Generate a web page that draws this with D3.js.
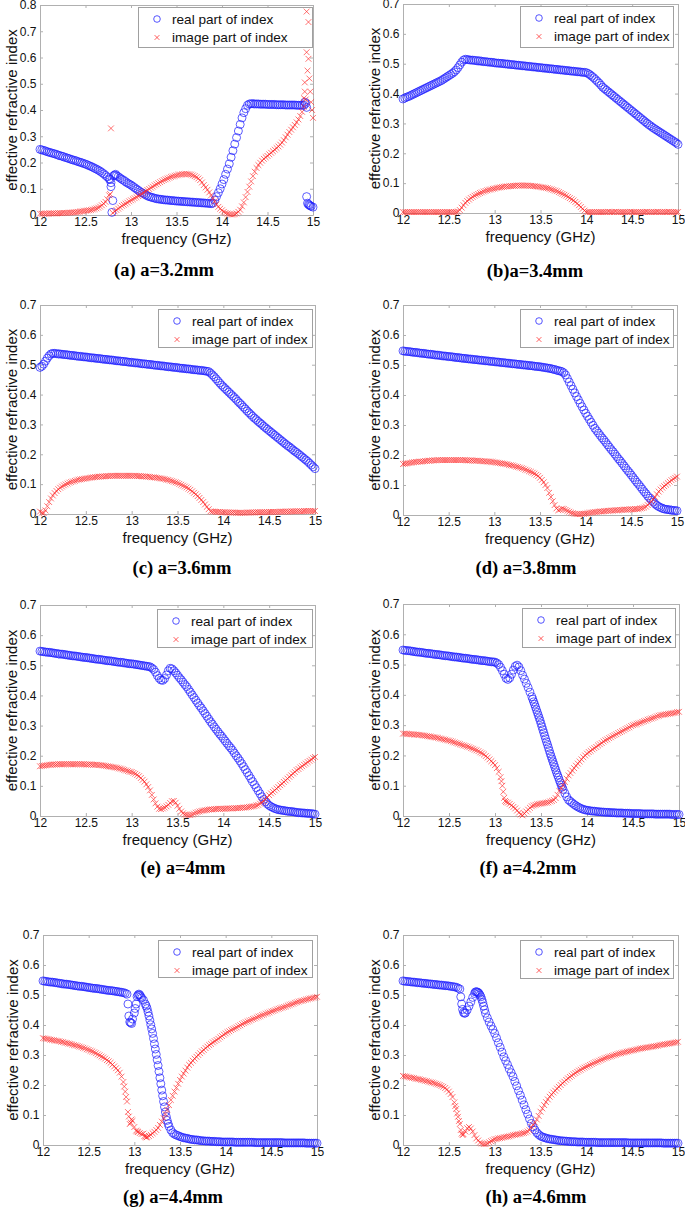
<!DOCTYPE html>
<html><head><meta charset="utf-8">
<script src="https://cdn.jsdelivr.net/npm/d3@7"></script>
<style>body{margin:0;background:#fff}svg{display:block}</style>
</head><body>
<svg id="chart" width="685" height="1208"></svg>
<script>
// ---------- texts & ticks ----------
const xTickValues = [12, 12.5, 13, 13.5, 14, 14.5, 15];
const xTickLabels = ['12', '12.5', '13', '13.5', '14', '14.5', '15'];
const yTickValues8 = [0, 0.1, 0.2, 0.3, 0.4, 0.5, 0.6, 0.7, 0.8];
const yTickLabels8 = ['0', '0.1', '0.2', '0.3', '0.4', '0.5', '0.6', '0.7', '0.8'];
const yTickValues7 = [0, 0.1, 0.2, 0.3, 0.4, 0.5, 0.6, 0.7];
const yTickLabels7 = ['0', '0.1', '0.2', '0.3', '0.4', '0.5', '0.6', '0.7'];
const titles = ['(a) a=3.2mm', '(b)a=3.4mm', '(c) a=3.6mm', '(d) a=3.8mm', '(e) a=4mm', '(f) a=4.2mm', '(g) a=4.4mm', '(h) a=4.6mm'];
const yMaxes = [0.8, 0.7, 0.7, 0.7, 0.7, 0.7, 0.7, 0.7];
const seriesNames = ['real part of index', 'image part of index'];
const xAxisLabel = 'frequency (GHz)';
const yAxisLabel = 'effective refractive index';

// frequency sampling (GHz), 12.00 .. 15.00 every 0.02
const freq = d3.range(151).map(i => +(12 + i * 0.02).toFixed(2));

// ---------- (a) a=3.2mm ----------
const realA = [
.250,.248,.246,.244,.241,.239,.237,.235,.233,.231,
.228,.226,.224,.222,.219,.217,.215,.212,.210,.208,
.206,.203,.201,.199,.196,.194,.191,.188,.185,.182,
.178,.175,.171,.167,.162,.157,.151,.145,.138,.123,
.055,.152,.150,.146,.141,.136,.132,.127,.122,.118,
.114,.109,.104,.099,.094,.089,.085,.081,.077,.073,
.070,.068,.066,.064,.062,.061,.060,.059,.058,.057,
.057,.056,.055,.055,.054,.053,.053,.052,.052,.051,
.051,.050,.050,.049,.049,.048,.048,.047,.047,.046,
.046,.045,.045,.044,.043,.045,.057,.070,.085,.100,
.118,.135,.155,.175,.195,.220,.245,.270,.295,.320,
.345,.370,.390,.405,.418,.423,.424,.424,.423,.423,
.423,.422,.422,.422,.422,.421,.421,.421,.421,.421,
.420,.420,.420,.420,.420,.419,.419,.419,.419,.419,
.419,.418,.418,.418,.418,.418,.425,.045,.038,.033,
.030];
const imagA = [
.005,.005,.005,.005,.005,.006,.006,.006,.006,.006,
.007,.007,.007,.008,.008,.008,.009,.009,.010,.010,
.011,.012,.013,.014,.015,.016,.017,.018,.019,.021,
.023,.025,.028,.032,.037,.043,.050,.060,.075,.330,
.008,.014,.019,.024,.029,.035,.039,.043,.047,.052,
.056,.060,.064,.068,.072,.076,.081,.086,.090,.095,
.099,.104,.108,.113,.117,.121,.125,.129,.133,.136,
.139,.142,.145,.147,.149,.151,.153,.154,.155,.156,
.156,.156,.155,.154,.151,.148,.144,.139,.133,.124,
.114,.105,.096,.086,.075,.063,.052,.041,.031,.024,
.018,.012,.008,.005,.003,.002,.002,.003,.006,.012,
.020,.033,.048,.068,.088,.108,.128,.148,.165,.179,
.190,.199,.207,.214,.220,.225,.231,.237,.243,.249,
.255,.261,.268,.276,.285,.296,.306,.316,.325,.334,
.343,.353,.364,.377,.393,.413,.440,.550,.520,.430,
.370];
const extraRealA = [[12.77,.135],[12.78,.108],[12.79,.010],[12.81,.150],[12.83,.155],[14.91,.430],[14.93,.410],[14.93,.070],[14.95,.040],[14.97,.035]];
const extraImagA = [[12.77,.080],[14.90,.445],[14.91,.470],[14.91,.505],[14.93,.620],[14.93,.775],[14.95,.735],[14.95,.595],[14.97,.470],[14.99,.400]];

// ---------- (b) a=3.4mm ----------
const realB = [
.382,.385,.388,.390,.393,.396,.399,.402,.405,.408,
.411,.414,.417,.420,.423,.426,.429,.432,.435,.438,
.441,.444,.448,.452,.456,.460,.464,.468,.473,.479,
.487,.496,.505,.512,.515,.514,.513,.512,.512,.511,
.510,.509,.509,.508,.507,.507,.506,.505,.505,.504,
.503,.502,.502,.501,.501,.500,.499,.499,.498,.497,
.497,.496,.495,.495,.494,.493,.493,.492,.491,.491,
.490,.489,.489,.488,.487,.487,.486,.485,.485,.484,
.483,.483,.482,.481,.481,.480,.479,.479,.478,.477,
.477,.476,.475,.475,.474,.473,.473,.472,.471,.471,
.470,.467,.463,.458,.453,.447,.441,.435,.428,.421,
.416,.411,.406,.401,.396,.391,.386,.381,.376,.371,
.366,.361,.356,.351,.346,.341,.336,.331,.326,.321,
.316,.311,.306,.301,.296,.292,.287,.283,.279,.275,
.271,.267,.263,.259,.255,.251,.247,.243,.239,.235,
.230];
const imagB = [
.003,.003,.003,.003,.003,.003,.003,.003,.003,.003,
.003,.003,.003,.003,.003,.003,.003,.003,.003,.003,
.003,.003,.003,.003,.003,.003,.003,.003,.003,.003,
.005,.010,.018,.026,.034,.040,.045,.050,.054,.058,
.061,.064,.067,.069,.072,.074,.076,.078,.079,.081,
.082,.084,.085,.086,.087,.088,.089,.089,.090,.090,
.091,.091,.092,.092,.092,.092,.092,.092,.092,.091,
.091,.090,.090,.089,.088,.087,.086,.085,.084,.083,
.081,.079,.077,.075,.073,.070,.067,.064,.061,.058,
.054,.050,.046,.042,.037,.032,.026,.020,.014,.008,
.003,.003,.003,.003,.003,.003,.003,.003,.003,.003,
.003,.003,.004,.003,.003,.003,.004,.003,.003,.003,
.003,.003,.003,.003,.004,.003,.003,.003,.003,.003,
.003,.003,.003,.004,.003,.003,.003,.003,.003,.004,
.003,.003,.003,.003,.003,.004,.003,.003,.003,.003,
.003];

// ---------- (c) a=3.6mm ----------
const realC = [
.491,.495,.502,.512,.522,.530,.536,.538,.538,.537,
.536,.536,.535,.534,.534,.533,.532,.531,.531,.530,
.529,.528,.528,.527,.526,.526,.525,.524,.523,.523,
.522,.521,.521,.520,.519,.518,.518,.517,.516,.516,
.515,.514,.513,.513,.512,.511,.511,.510,.509,.508,
.508,.507,.506,.506,.505,.504,.503,.503,.502,.501,
.501,.500,.499,.498,.498,.497,.496,.496,.495,.494,
.493,.493,.492,.491,.491,.490,.489,.488,.488,.487,
.486,.486,.485,.484,.483,.483,.482,.481,.481,.480,
.479,.478,.477,.472,.466,.460,.453,.446,.439,.432,
.426,.420,.414,.408,.402,.396,.390,.384,.377,.371,
.365,.358,.352,.345,.339,.333,.327,.321,.316,.310,
.305,.300,.294,.289,.284,.279,.274,.269,.264,.259,
.254,.249,.244,.239,.234,.229,.225,.220,.215,.210,
.206,.201,.196,.191,.186,.181,.176,.170,.164,.158,
.152];
const imagC = [
.008,.004,.003,.012,.026,.040,.052,.062,.070,.077,
.083,.088,.092,.096,.099,.102,.105,.107,.109,.111,
.113,.115,.116,.117,.118,.119,.120,.121,.122,.123,
.124,.124,.125,.125,.126,.126,.127,.127,.127,.128,
.128,.128,.128,.128,.128,.128,.128,.128,.128,.128,
.128,.128,.128,.127,.127,.127,.126,.126,.125,.125,
.124,.123,.123,.122,.121,.120,.119,.118,.117,.115,
.114,.112,.110,.108,.106,.104,.101,.098,.095,.092,
.089,.085,.081,.076,.071,.066,.060,.054,.047,.040,
.032,.024,.016,.009,.008,.008,.007,.007,.007,.006,
.006,.006,.005,.005,.005,.005,.005,.004,.004,.004,
.004,.004,.004,.005,.005,.005,.005,.005,.006,.006,
.006,.006,.006,.006,.006,.007,.007,.007,.007,.007,
.007,.008,.008,.008,.008,.008,.008,.009,.009,.009,
.009,.009,.009,.009,.010,.010,.010,.010,.010,.010,
.010];

// ---------- (d) a=3.8mm ----------
const realD = [
.547,.546,.545,.545,.544,.543,.542,.542,.541,.540,
.539,.539,.538,.537,.536,.536,.535,.534,.533,.533,
.532,.531,.530,.530,.529,.528,.528,.527,.526,.525,
.525,.524,.523,.522,.522,.521,.520,.520,.519,.518,
.518,.517,.516,.516,.515,.514,.514,.513,.512,.512,
.511,.510,.510,.509,.508,.508,.507,.506,.506,.505,
.504,.504,.503,.502,.502,.501,.500,.500,.499,.498,
.498,.497,.496,.495,.495,.494,.493,.492,.491,.490,
.489,.488,.486,.485,.483,.481,.480,.478,.474,.467,
.455,.443,.431,.419,.407,.395,.384,.372,.361,.350,
.339,.329,.319,.309,.299,.289,.281,.273,.265,.257,
.250,.242,.234,.226,.218,.211,.203,.195,.187,.180,
.172,.164,.156,.148,.141,.133,.125,.117,.109,.102,
.094,.086,.078,.071,.063,.056,.049,.043,.037,.032,
.028,.025,.022,.020,.019,.018,.017,.016,.015,.015,
.014];
const imagD = [
.170,.171,.172,.173,.174,.175,.176,.177,.177,.178,
.178,.179,.180,.180,.181,.181,.182,.182,.182,.183,
.183,.183,.183,.183,.183,.183,.183,.183,.183,.183,
.183,.183,.183,.183,.183,.182,.182,.182,.182,.181,
.181,.181,.180,.180,.179,.179,.178,.178,.177,.177,
.176,.175,.174,.173,.172,.171,.170,.169,.167,.166,
.165,.163,.161,.160,.158,.156,.154,.151,.149,.146,
.144,.141,.138,.134,.130,.124,.117,.109,.100,.090,
.074,.060,.046,.033,.022,.016,.018,.021,.020,.017,
.014,.011,.008,.006,.004,.003,.003,.003,.004,.004,
.005,.006,.007,.008,.009,.010,.010,.011,.012,.012,
.013,.013,.014,.014,.015,.015,.016,.016,.016,.017,
.017,.018,.018,.018,.019,.019,.019,.020,.020,.020,
.022,.023,.025,.028,.033,.039,.045,.052,.060,.069,
.078,.085,.091,.096,.101,.106,.111,.116,.120,.124,
.128];

// ---------- (e) a=4mm ----------
const realE = [
.547,.546,.545,.544,.543,.543,.542,.541,.540,.539,
.538,.537,.537,.536,.535,.534,.533,.532,.531,.531,
.530,.529,.528,.527,.526,.526,.525,.524,.523,.522,
.521,.520,.520,.519,.518,.517,.516,.515,.515,.514,
.513,.512,.511,.510,.510,.509,.508,.507,.506,.505,
.505,.504,.503,.502,.501,.500,.499,.498,.497,.496,
.495,.491,.486,.477,.466,.457,.451,.450,.456,.468,
.482,.490,.488,.482,.475,.467,.459,.452,.444,.436,
.429,.420,.411,.402,.393,.384,.375,.366,.358,.349,
.340,.331,.322,.313,.305,.296,.288,.280,.272,.265,
.257,.249,.241,.233,.226,.218,.209,.200,.192,.183,
.174,.164,.154,.144,.134,.124,.114,.104,.094,.084,
.074,.064,.055,.047,.040,.035,.031,.028,.025,.023,
.021,.020,.019,.018,.017,.016,.015,.015,.014,.013,
.012,.011,.011,.010,.010,.009,.009,.008,.008,.007,
.006];
const imagE = [
.165,.166,.167,.168,.169,.170,.170,.171,.171,.171,
.172,.172,.172,.172,.172,.172,.172,.172,.172,.172,
.172,.172,.172,.172,.172,.171,.171,.171,.171,.170,
.170,.170,.169,.169,.168,.167,.166,.165,.164,.163,
.162,.161,.160,.158,.157,.155,.153,.151,.149,.147,
.146,.143,.140,.136,.132,.126,.120,.114,.105,.096,
.085,.070,.055,.042,.031,.024,.023,.025,.028,.032,
.037,.043,.049,.050,.044,.034,.024,.015,.009,.005,
.004,.003,.003,.005,.008,.011,.013,.015,.017,.018,
.019,.020,.021,.022,.022,.023,.023,.024,.024,.024,
.024,.024,.025,.025,.025,.025,.026,.026,.026,.027,
.027,.028,.028,.029,.030,.031,.032,.033,.035,.037,
.041,.045,.049,.055,.062,.069,.075,.080,.085,.091,
.096,.102,.107,.113,.118,.124,.130,.135,.141,.146,
.152,.156,.161,.165,.170,.174,.179,.183,.187,.192,
.196];

// ---------- (f) a=4.2mm ----------
const realF = [
.548,.547,.546,.546,.545,.544,.543,.542,.541,.541,
.540,.539,.538,.537,.537,.536,.535,.534,.533,.533,
.532,.531,.530,.529,.529,.528,.527,.526,.525,.525,
.524,.523,.522,.521,.521,.520,.519,.518,.517,.517,
.516,.515,.514,.513,.513,.512,.511,.510,.509,.509,
.508,.505,.500,.491,.480,.468,.455,.451,.456,.468,
.482,.494,.498,.492,.480,.465,.452,.438,.424,.409,
.394,.377,.360,.342,.324,.305,.285,.265,.245,.226,
.206,.188,.170,.152,.135,.118,.102,.088,.075,.063,
.053,.048,.043,.038,.034,.030,.027,.024,.022,.020,
.019,.018,.017,.016,.016,.015,.014,.014,.013,.013,
.012,.012,.012,.011,.011,.011,.010,.010,.010,.010,
.009,.009,.009,.009,.008,.008,.008,.008,.008,.008,
.007,.007,.007,.007,.007,.007,.007,.006,.006,.006,
.006,.006,.006,.006,.006,.006,.005,.005,.005,.005,
.005];
const imagF = [
.272,.272,.271,.271,.270,.270,.269,.269,.268,.268,
.267,.266,.265,.264,.263,.262,.261,.260,.259,.258,
.256,.255,.253,.252,.250,.249,.247,.245,.243,.241,
.239,.237,.235,.233,.231,.229,.227,.224,.222,.219,
.217,.214,.210,.207,.203,.198,.193,.187,.181,.175,
.168,.158,.146,.128,.100,.060,.046,.044,.040,.035,
.030,.025,.018,.011,.005,.002,.008,.015,.021,.027,
.032,.035,.037,.039,.040,.041,.042,.043,.044,.045,
.048,.050,.053,.059,.070,.083,.092,.101,.112,.123,
.134,.142,.150,.158,.166,.173,.180,.187,.194,.200,
.206,.211,.215,.220,.224,.228,.233,.237,.241,.246,
.250,.253,.257,.260,.264,.267,.270,.274,.277,.280,
.283,.287,.290,.293,.297,.300,.302,.304,.306,.308,
.311,.313,.315,.318,.320,.322,.324,.326,.329,.331,
.333,.334,.335,.336,.337,.338,.339,.340,.341,.343,
.344];
const extraRealF = [[13.41,.386],[13.43,.369],[13.45,.351],[13.47,.333],[13.49,.315],[13.51,.295],[13.53,.275],[13.55,.255],[13.57,.236],[13.59,.216],[13.61,.197],[13.63,.179],[13.65,.161],[13.67,.143],[13.69,.127],[13.71,.110],[13.73,.095]];
const extraImagF = [[13.07,.115],[13.09,.080],[13.11,.050]];

// ---------- (g) a=4.4mm ----------
const realG = [
.547,.546,.545,.544,.543,.543,.542,.541,.540,.539,
.538,.537,.536,.536,.535,.534,.533,.532,.531,.530,
.529,.529,.528,.527,.526,.525,.524,.523,.522,.522,
.521,.520,.519,.518,.517,.516,.515,.515,.514,.513,
.512,.511,.510,.509,.508,.506,.503,.430,.408,.420,
.440,.470,.500,.500,.490,.483,.470,.455,.430,.401,
.372,.337,.302,.265,.224,.183,.145,.110,.082,.062,
.050,.041,.036,.033,.031,.028,.026,.024,.023,.022,
.020,.019,.018,.017,.017,.016,.015,.014,.014,.013,
.013,.013,.012,.012,.012,.011,.011,.011,.010,.010,
.010,.010,.010,.010,.010,.009,.009,.009,.009,.009,
.009,.009,.009,.009,.009,.009,.008,.008,.008,.008,
.008,.008,.008,.008,.008,.008,.008,.008,.008,.008,
.008,.008,.007,.007,.007,.007,.007,.007,.007,.007,
.007,.007,.007,.007,.006,.006,.006,.006,.006,.006,
.006];
const imagG = [
.356,.355,.354,.353,.351,.350,.349,.348,.347,.346,
.344,.343,.341,.340,.338,.337,.335,.333,.332,.330,
.328,.326,.324,.322,.319,.317,.314,.312,.309,.306,
.302,.299,.295,.292,.288,.283,.279,.274,.268,.262,
.256,.249,.241,.228,.210,.178,.145,.095,.075,.080,
.060,.048,.043,.040,.037,.038,.028,.027,.030,.034,
.039,.044,.050,.057,.067,.078,.090,.103,.117,.133,
.150,.164,.178,.191,.204,.217,.228,.238,.248,.258,
.267,.274,.281,.288,.294,.300,.306,.312,.317,.323,
.328,.333,.337,.342,.346,.350,.354,.359,.363,.368,
.372,.376,.379,.383,.386,.389,.392,.396,.399,.403,
.406,.409,.412,.414,.417,.420,.422,.425,.428,.430,
.433,.435,.438,.440,.442,.445,.447,.449,.452,.454,
.456,.458,.460,.462,.465,.467,.469,.471,.474,.476,
.478,.480,.481,.483,.485,.486,.488,.489,.491,.492,
.494];
const extraRealG = [[12.93,.470],[12.95,.410],[12.97,.405],[13.01,.455],[13.03,.495],[13.05,.503],[13.07,.495],[13.13,.463],[13.15,.443],[13.17,.416],[13.19,.387],[13.21,.355],[13.23,.320],[13.25,.284],[13.27,.245],[13.29,.204],[13.31,.164],[13.33,.127],[13.35,.095],[13.37,.071]];
const extraImagG = [[12.89,.195],[12.91,.160],[12.93,.110],[12.95,.070],[12.97,.085],[13.03,.045],[13.11,.030],[13.13,.025]];

// ---------- (h) a=4.6mm ----------
const realH = [
.547,.546,.545,.545,.544,.543,.543,.542,.541,.541,
.540,.539,.539,.538,.537,.537,.536,.535,.535,.534,
.533,.533,.532,.531,.531,.530,.529,.528,.527,.526,
.523,.520,.470,.442,.440,.450,.463,.477,.492,.505,
.511,.508,.500,.485,.463,.439,.424,.410,.397,.385,
.372,.357,.341,.326,.310,.294,.281,.268,.254,.241,
.228,.212,.197,.181,.166,.150,.134,.118,.103,.087,
.072,.060,.050,.041,.035,.030,.027,.025,.023,.021,
.020,.019,.018,.017,.016,.015,.014,.014,.013,.013,
.012,.012,.011,.011,.011,.010,.010,.010,.010,.009,
.009,.009,.009,.009,.009,.009,.008,.008,.008,.008,
.008,.008,.008,.008,.008,.008,.008,.008,.008,.008,
.008,.008,.008,.007,.007,.007,.007,.007,.007,.007,
.007,.007,.007,.007,.007,.007,.007,.007,.007,.007,
.007,.007,.006,.006,.006,.006,.006,.006,.006,.006,
.006];
const imagH = [
.230,.229,.228,.226,.225,.224,.223,.221,.220,.219,
.217,.216,.214,.213,.211,.209,.208,.206,.204,.202,
.200,.197,.194,.190,.185,.178,.170,.160,.142,.120,
.094,.070,.038,.036,.045,.056,.060,.055,.045,.033,
.022,.015,.008,.005,.003,.003,.005,.009,.013,.016,
.019,.020,.022,.023,.024,.026,.027,.028,.029,.031,
.033,.034,.035,.036,.037,.039,.040,.042,.045,.049,
.060,.067,.075,.085,.097,.111,.122,.133,.143,.152,
.161,.168,.175,.181,.188,.194,.200,.206,.211,.217,
.222,.227,.231,.236,.240,.244,.248,.251,.255,.258,
.261,.264,.267,.270,.273,.276,.278,.281,.284,.286,
.289,.291,.293,.295,.297,.299,.301,.303,.305,.306,
.308,.309,.311,.312,.314,.315,.316,.318,.319,.321,
.322,.323,.324,.325,.326,.327,.328,.329,.330,.331,
.333,.334,.335,.336,.337,.338,.339,.340,.341,.342,
.344];
const extraRealH = [[12.63,.494],[12.65,.452],[12.67,.439],[12.79,.510],[12.81,.510],[12.83,.505],[12.85,.494],[12.87,.475],[12.89,.451]];
const extraImagH = [[12.57,.130],[12.59,.105],[12.61,.080],[12.63,.050],[12.65,.033]];

const realSeries = [realA, realB, realC, realD, realE, realF, realG, realH];
const imagSeries = [imagA, imagB, imagC, imagD, imagE, imagF, imagG, imagH];
const realExtras = [extraRealA, [], [], [], [], extraRealF, extraRealG, extraRealH];
const imagExtras = [extraImagA, [], [], [], [], extraImagF, extraImagG, extraImagH];

// ---------- layout (pixels) ----------
const layout = [
  {x0:40,  x1:313, yb:215,  yt:5,   lg:[138,7,312,47],    tx:164, ty:276,  ylx:17},
  {x0:403, x1:678, yb:213,  yt:4,   lg:[520,6,673,47],    tx:535, ty:277,  ylx:380},
  {x0:40,  x1:315, yb:514,  yt:305, lg:[158,309,312,347], tx:182, ty:574,  ylx:17},
  {x0:403, x1:677, yb:515,  yt:305, lg:[520,309,673,347], tx:526, ty:574,  ylx:380},
  {x0:40,  x1:315, yb:816,  yt:605, lg:[157,609,312,647], tx:183, ty:874,  ylx:17},
  {x0:403, x1:679, yb:816,  yt:604, lg:[522,608,675,647], tx:528, ty:874,  ylx:380},
  {x0:43,  x1:317, yb:1145, yt:935, lg:[158,940,312,977], tx:173, ty:1203, ylx:18},
  {x0:403, x1:678, yb:1145, yt:935, lg:[520,940,673,978], tx:536, ty:1203, ylx:380}
];

const SANS = '"Liberation Sans", Arial, Helvetica, sans-serif';
const SERIF = '"Liberation Serif", "Times New Roman", Times, serif';
const AXIS_COLOR = '#b0b0b0';
const BLUE = '#1f1fff';
const RED = '#ff2020';
const crossPath = s => `M${-s},${-s}L${s},${s}M${-s},${s}L${s},${-s}`;

const svg = d3.select('#chart');

function styleAxis(sel) {
  sel.select('.domain').attr('stroke', AXIS_COLOR).attr('stroke-width', 1);
  sel.selectAll('.tick line').attr('stroke', AXIS_COLOR).attr('stroke-width', 1);
  sel.selectAll('.tick text').attr('fill', '#111').style('font-family', SANS).style('font-size', '12px');
}

layout.forEach((L, k) => {
  const ymax = yMaxes[k];
  const yTicks = ymax > 0.75 ? yTickValues8 : yTickValues7;
  const yLabels = ymax > 0.75 ? yTickLabels8 : yTickLabels7;
  const x = d3.scaleLinear().domain([12, 15]).range([L.x0, L.x1]);
  const y = d3.scaleLinear().domain([0, ymax]).range([L.yb, L.yt]);
  const g = svg.append('g');

  // axes (box with inward ticks)
  g.append('g').attr('transform', `translate(0,${L.yb})`)
    .call(d3.axisBottom(x).tickValues(xTickValues).tickFormat((d, i) => xTickLabels[i])
      .tickSizeInner(-3).tickSizeOuter(0).tickPadding(2.5)).call(styleAxis);
  g.append('g').attr('transform', `translate(0,${L.yt})`)
    .call(d3.axisTop(x).tickValues(xTickValues).tickFormat('').tickSizeInner(-3).tickSizeOuter(0)).call(styleAxis);
  g.append('g').attr('transform', `translate(${L.x0},0)`)
    .call(d3.axisLeft(y).tickValues(yTicks).tickFormat((d, i) => yLabels[i])
      .tickSizeInner(-3).tickSizeOuter(0).tickPadding(3.5)).call(styleAxis);
  g.append('g').attr('transform', `translate(${L.x1},0)`)
    .call(d3.axisRight(y).tickValues(yTicks).tickFormat('').tickSizeInner(-3).tickSizeOuter(0)).call(styleAxis);

  // axis labels
  g.append('text').attr('x', (L.x0 + L.x1) / 2).attr('y', L.yb + 29)
    .attr('text-anchor', 'middle').style('font-family', SANS).style('font-size', '15px').attr('fill', '#111')
    .text(xAxisLabel);
  g.append('text').attr('transform', `translate(${L.ylx},${(L.yt + L.yb) / 2}) rotate(-90)`)
    .attr('text-anchor', 'middle').style('font-family', SANS).style('font-size', '15px').attr('fill', '#111')
    .text(yAxisLabel);

  // legend
  const [lx0, ly0, lx1, ly1] = L.lg;
  const lg = g.append('g');
  lg.append('rect').attr('x', lx0 + 0.5).attr('y', ly0 + 0.5).attr('width', lx1 - lx0).attr('height', ly1 - ly0)
    .attr('fill', '#fff').attr('stroke', '#a0a0a0').attr('stroke-width', 1);
  const rowY = [ly0 + 12, ly0 + 30.5];
  lg.append('circle').attr('cx', lx0 + 19).attr('cy', rowY[0]).attr('r', 3.3)
    .attr('fill', 'none').attr('stroke', BLUE).attr('stroke-width', 0.9).attr('opacity', 0.85);
  lg.append('path').attr('transform', `translate(${lx0 + 19},${rowY[1]})`).attr('d', crossPath(2.4))
    .attr('fill', 'none').attr('stroke', RED).attr('stroke-width', 0.9).attr('opacity', 0.8);
  seriesNames.forEach((name, i) => {
    lg.append('text').attr('x', lx0 + 34).attr('y', rowY[i]).attr('dy', '0.36em')
      .style('font-family', SANS).style('font-size', '13.6px').attr('fill', '#111').text(name);
  });

  // data
  const realPts = realSeries[k].map((v, i) => [freq[i], v]).concat(realExtras[k]);
  const imagPts = imagSeries[k].map((v, i) => [freq[i], v]).concat(imagExtras[k]);

  g.append('g').selectAll('circle').data(realPts).join('circle')
    .attr('cx', d => x(d[0])).attr('cy', d => y(d[1])).attr('r', 4)
    .attr('fill', 'none').attr('stroke', BLUE).attr('stroke-width', 0.9).attr('stroke-opacity', 0.8);
  g.append('g').selectAll('path').data(imagPts).join('path')
    .attr('transform', d => `translate(${x(d[0])},${y(d[1])})`).attr('d', crossPath(2.9))
    .attr('fill', 'none').attr('stroke', RED).attr('stroke-width', 0.85).attr('stroke-opacity', 0.75);

  // caption
  g.append('text').attr('x', L.tx).attr('y', L.ty).attr('text-anchor', 'middle')
    .style('font-family', SERIF).style('font-size', '18.5px').style('font-weight', 'bold').attr('fill', '#000')
    .text(titles[k]);
});
</script>
</body></html>
